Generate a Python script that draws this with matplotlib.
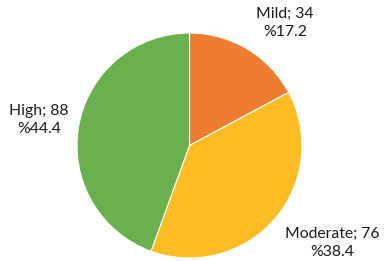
import matplotlib.pyplot as plt

categories = ["Mild", "Moderate", "High"]
counts = [34, 76, 88]
percents = [17.2, 38.4, 44.4]
colors = ["#ED7D31", "#FBBC24", "#6AB04F"]

plt.rcParams['font.family'] = ['Lato', 'DejaVu Sans']

fig = plt.figure(figsize=(3.87, 2.61), dpi=100)
ax = fig.add_axes([0, 0, 1, 1])

ax.pie(counts, colors=colors, startangle=90, counterclock=False,
       center=(189.5, 115.5), radius=112.5,
       wedgeprops={"edgecolor": "white", "linewidth": 0.8})

# pie() resets the limits, so set them afterwards
ax.set_xlim(0, 387)
ax.set_ylim(0, 261)
ax.set_aspect("equal")
ax.axis("off")

# label spots (x, y in pixels from bottom-left)
label_pos = [(285, 238), (332, 18), (39, 141)]
for name, n, pct, (x, y) in zip(categories, counts, percents, label_pos):
    ax.text(x, y, f"{name}; {n}\n%{pct}", ha="center", va="center",
            fontsize=11.3, color="#1a1a1a", linespacing=1.4)

fig.savefig("out.png", dpi=100)
